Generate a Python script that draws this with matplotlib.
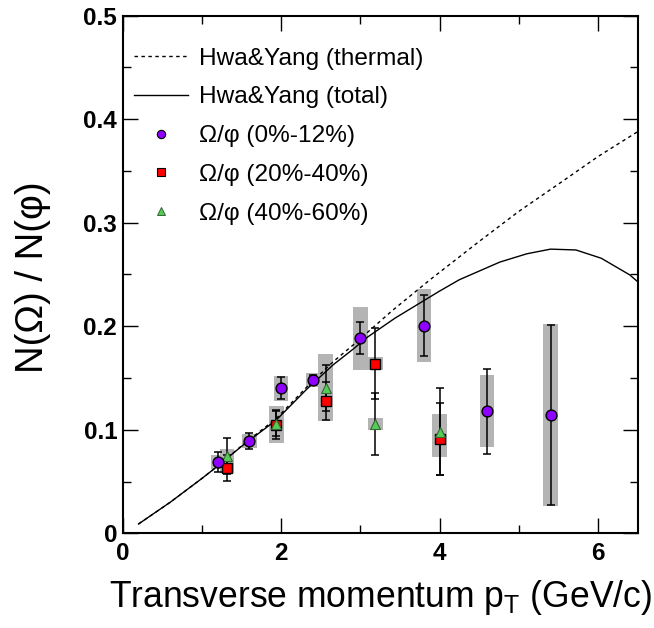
import matplotlib
matplotlib.use("Agg")
import matplotlib.pyplot as plt
from matplotlib.lines import Line2D
from matplotlib.ticker import MultipleLocator
import numpy as np

plt.rcParams['font.family'] = ['Liberation Sans', 'DejaVu Sans']
plt.rcParams['mathtext.fontset'] = 'custom'
plt.rcParams['mathtext.rm'] = 'Liberation Sans'
plt.rcParams['mathtext.it'] = 'Liberation Sans'

# ---- data ----
c_x = [1.2, 1.6, 2.0, 2.4, 3.0, 3.8, 4.6, 5.4]
c_y = [0.0689, 0.0892, 0.140, 0.148, 0.1884, 0.2006, 0.118, 0.1143]
c_err = [0.010, 0.0075, 0.0106, 0.005, 0.0153, 0.0296, 0.041, 0.087]
c_sys = [0.0068, 0.007, 0.012, 0.007, 0.0305, 0.0355, 0.035, 0.088]

s_x = [1.32, 1.94, 2.56, 3.19, 4.0]
s_y = [0.0634, 0.105, 0.1278, 0.164, 0.0911]
s_err = [0.0126, 0.014, 0.018, 0.034, 0.035]
s_sys = [0.005, 0.0175, 0.015, 0.006, 0.017]

t_x = [1.32, 1.94, 2.56, 3.19, 4.0]
t_y = [0.0747, 0.106, 0.1405, 0.1056, 0.0982]
t_err = [0.017, 0.012, 0.0225, 0.030, 0.042]
t_sys = [0.0065, 0.015, 0.0325, 0.006, 0.017]

total_x = [0.2, 0.4, 0.6, 0.8, 1.0, 1.2, 1.5, 1.94, 2.32, 2.66, 2.91, 3.08, 3.44,
           4.0, 4.25, 4.76, 5.1, 5.4, 5.72, 6.04, 6.4, 6.5]
total_y = [0.009, 0.0195, 0.030, 0.0415, 0.053, 0.065, 0.084, 0.1095, 0.139, 0.163, 0.178,
           0.189, 0.208, 0.234, 0.245, 0.262, 0.270, 0.2745, 0.2737, 0.2657, 0.2496, 0.243]

thermal_x = [0.2, 0.4, 0.6, 0.8, 1.0, 1.2, 1.5, 1.94, 2.32, 2.66, 2.91, 3.4, 3.88,
             4.5, 5.0, 5.55, 6.0, 6.5]
thermal_y = [0.009, 0.0195, 0.030, 0.0415, 0.053, 0.065, 0.0845, 0.111, 0.141, 0.166, 0.182,
             0.215, 0.245, 0.282, 0.311, 0.340, 0.364, 0.388]

labels = ["Hwa&Yang (thermal)", "Hwa&Yang (total)",
          "\u03a9/\u03c6 (0%-12%)", "\u03a9/\u03c6 (20%-40%)", "\u03a9/\u03c6 (40%-60%)"]

purple = "#8F00FF"
red = "#FF0000"
green = "#55CC55"
grey = "#b4b4b4"

fig = plt.figure(figsize=(6.54, 6.28), dpi=100)
ax = fig.add_axes([0.1876, 0.1508, 0.7875, 0.8242])

box_w = 0.18
for xs, ys, ss in [(c_x, c_y, c_sys), (s_x, s_y, s_sys), (t_x, t_y, t_sys)]:
    ax.bar(xs, 2 * np.array(ss), bottom=np.array(ys) - np.array(ss), width=box_w,
           color=grey, edgecolor='none', zorder=1)

ax.plot(thermal_x, thermal_y, color='black', lw=1.0, ls=(0, (2.5, 2.5)), zorder=2)
ax.plot(total_x, total_y, color='black', lw=1.0, zorder=2)

for xs, ys, es in [(c_x, c_y, c_err), (s_x, s_y, s_err), (t_x, t_y, t_err)]:
    ax.errorbar(xs, ys, yerr=es, fmt='none', ecolor='black', elinewidth=1.1,
                capsize=3, capthick=1.1, zorder=3)

ax.plot(c_x, c_y, 'o', ms=7.8, mfc=purple, mec='black', mew=1.0, ls='none', zorder=5)
ax.plot(s_x, s_y, 's', ms=6.5, mfc=red, mec='black', mew=1.0, ls='none', zorder=4)
ax.plot(t_x, t_y, '^', ms=7.5, mfc=green, mec='#336633', mew=0.8, ls='none', zorder=4.5)

ax.set_xlim(0, 6.5)
ax.set_ylim(0, 0.5)
ax.xaxis.set_minor_locator(MultipleLocator(1))
ax.yaxis.set_minor_locator(MultipleLocator(0.05))
ax.set_xticks([0, 2, 4, 6])
ax.set_xticklabels(["0", "2", "4", "6"])
ax.set_yticks([0, 0.1, 0.2, 0.3, 0.4, 0.5])
ax.set_yticklabels(["0", "0.1", "0.2", "0.3", "0.4", "0.5"])
ax.tick_params(which='both', direction='in', top=True, right=True, width=1.0)
ax.tick_params(which='major', length=11, labelsize=17.5)
ax.tick_params(which='minor', length=5.5)
ax.tick_params(axis='x', which='major', pad=6)
ax.tick_params(axis='y', which='major', pad=4)
for lab in ax.get_xticklabels() + ax.get_yticklabels():
    lab.set_fontweight('bold')
for sp in ax.spines.values():
    sp.set_linewidth(1.5)

ax.set_xlabel(r"Transverse momentum p$_{\mathregular{T}}$ (GeV/c)", fontsize=25.6, va='center')
ax.xaxis.set_label_coords(0.5, -0.125)
ax.set_ylabel("N(\u03a9) / N(\u03c6)", fontsize=27.5, va='center')
ax.yaxis.set_label_coords(-0.175, 0.494)

handles = [
    Line2D([], [], color='black', lw=1.0, ls=(0, (2.5, 2.5))),
    Line2D([], [], color='black', lw=1.0),
    Line2D([], [], marker='o', ms=6, mfc=purple, mec='black', mew=0.8, ls='none'),
    Line2D([], [], marker='s', ms=5.5, mfc=red, mec='black', mew=0.8, ls='none'),
    Line2D([], [], marker='^', ms=6, mfc=green, mec='#336633', mew=0.7, ls='none'),
]
ax.legend(handles, labels, loc='upper left', bbox_to_anchor=(0.022, 0.9385),
          frameon=False, fontsize=17.6, handlelength=2.2, handletextpad=0.46,
          labelspacing=0.68, borderpad=0, borderaxespad=0)

fig.savefig("out.png", dpi=100)
